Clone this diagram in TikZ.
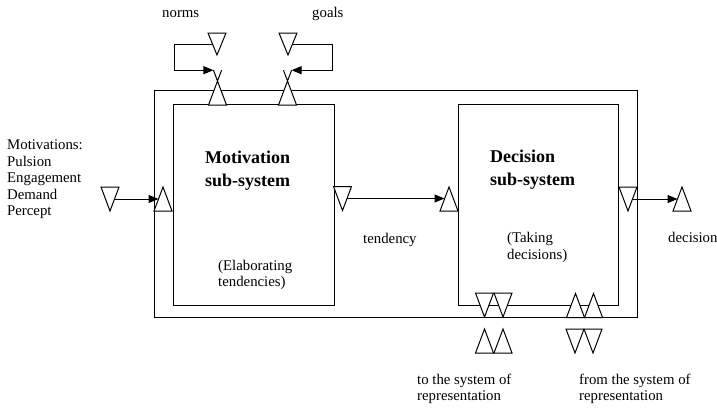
\documentclass[tikz,border=0pt]{standalone}
\usepackage{fontspec}
\setmainfont{Liberation Serif}
\usetikzlibrary{shapes.geometric,arrows.meta,calc}
\begin{document}
\begin{tikzpicture}[x=1pt,y=-1pt,
  tri/.style={isosceles triangle, isosceles triangle stretches, draw, fill=white, line width=1pt, inner sep=0pt, outer sep=0pt, minimum width=18pt, minimum height=24pt, anchor=apex},
  up/.style={tri, shape border rotate=90},
  dn/.style={tri, shape border rotate=-90},
  frame/.style={draw, line width=1pt},
  arr/.style={line width=1pt, -{Triangle[length=10pt,width=8pt]}},
  lbl/.style={font=\fontsize{14.8}{16.5}\selectfont, align=left, inner sep=0pt, anchor=base west},
  ttl/.style={font=\fontsize{18}{23}\selectfont\bfseries, align=left, inner sep=0pt, anchor=base west},
]
\useasboundingbox (0,0) rectangle (717,407);
% frames
\draw[frame] (154,90) rectangle (637,317);
\node[frame, minimum width=161pt, minimum height=201pt, inner sep=0pt] (mot) at (253.5,204.5) {};
\node[frame, minimum width=160pt, minimum height=201pt, inner sep=0pt] (dec) at (538.5,204.5) {};
% triangles (placed by their apex)
\node[dn] (in1) at (110,211) {};
\node[up] (mIn) at (163,187) {};
\node[dn] (mOut) at (342.5,210.5) {};
\node[up] (dIn) at (449,187) {};
\node[dn] (dOut) at (628,211) {};
\node[up] (dRes) at (682,187) {};
\node[dn, minimum height=22pt] (nd) at (217,55) {};
\node[up] (nu) at (217.5,81) {};
\node[dn, minimum height=22pt] (gd) at (288,55) {};
\node[up] (gu) at (287.5,81) {};
\node[dn] (toA) at (484.5,317) {};
\node[dn] (toB) at (503,317) {};
\node[up] (toC) at (484.5,329) {};
\node[up] (toD) at (503,329) {};
\node[up] (frA) at (575.5,293.5) {};
\node[up] (frB) at (593.5,293.5) {};
\node[dn] (frC) at (575,353) {};
\node[dn] (frD) at (593,353) {};
% crossed tips above the top input triangles
\coordinate (nx) at ($(nu.right corner)!1.45!(nu.apex)$);
\coordinate (nx2) at ($(nu.left corner)!1.45!(nu.apex)$);
\coordinate (gx) at ($(gu.left corner)!1.45!(gu.apex)$);
\coordinate (gx2) at ($(gu.right corner)!1.45!(gu.apex)$);
\draw[line width=1pt] (nu.apex) -- (nx) (nu.apex) -- (nx2);
\draw[line width=1pt] (gu.apex) -- (gx) (gu.apex) -- (gx2);
% connectors
\draw[arr] (in1.left side) -- (in1.left side -| mIn.left side);
\draw[arr] (mOut.left side) -- (mOut.left side -| dIn.left side);
\draw[arr] (dOut.left side) -- (dOut.left side -| dRes.left side);
\draw[arr] (nd.right side) -- ++(-38.5,0) |- (nx);
\draw[arr] (gd.left side) -- ++(39.5,0) |- (gx);
% texts
\node[lbl] (tnorms) at (162,17) {norms};
\node[lbl] (tgoals) at (312,17) {goals};
\node[lbl] (tmotiv) at (7,215.5) {Motivations:\\Pulsion\\Engagement\\Demand\\Percept};
\node[ttl] (tmot) at (205,186) {Motivation\\sub-system};
\node[lbl] (tmot2) at (218,286.5) {(Elaborating\\tendencies)};
\node[ttl] (tdec) at (490,185) {Decision\\sub-system};
\node[lbl] (tdec2) at (507,259) {(Taking\\decisions)};
\node[lbl] (ttend) at (363,243) {tendency};
\node[lbl] (tdecis) at (668,242) {decision};
\node[lbl] (tto) at (417,400.5) {to the system of\\representation};
\node[lbl] (tfrom) at (579,400.5) {from the system of\\representation};
\end{tikzpicture}
\end{document}
